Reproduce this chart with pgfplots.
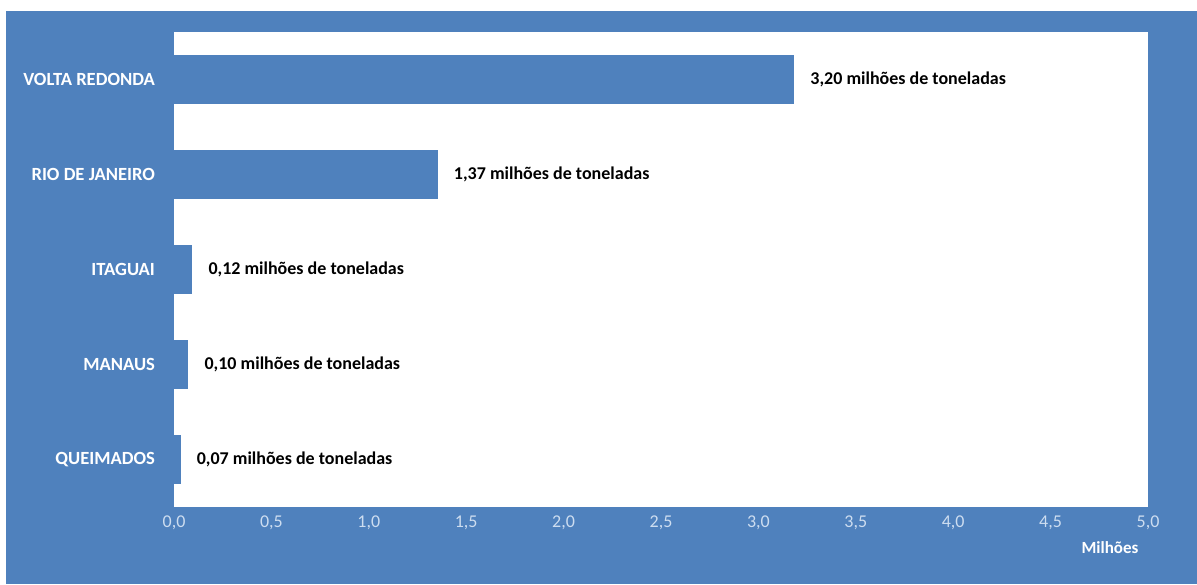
\documentclass[border=0pt]{standalone}
\usepackage{pgfplots}
\pgfplotsset{compat=1.18}
\usepackage{fontspec}
\setmainfont{Carlito}
\definecolor{bgblue}{RGB}{79,129,189}
\definecolor{barblue}{RGB}{79,129,189}
\definecolor{ticklbl}{RGB}{205,221,240}
\begin{document}
\begin{tikzpicture}
\fill[white] (0,0) rectangle (598.5pt,292pt);
\fill[bgblue] (3pt,0) rectangle (598.5pt,286.5pt);
\useasboundingbox (0,0) rectangle (598.5pt,292pt);
\begin{axis}[
  at={(87pt,38.5pt)}, anchor=south west,
  scale only axis, width=487pt, height=237.5pt,
  xbar, bar width=24pt,
  xmin=0, xmax=5, ymin=-0.5, ymax=4.5,
  y dir=reverse,
  ytick={0,1,2,3,4},
  yticklabels={VOLTA REDONDA,RIO DE JANEIRO,ITAGUAI,MANAUS,QUEIMADOS},
  xtick={0,0.5,...,5},
  /pgf/number format/.cd, use comma, fixed, fixed zerofill, precision=1, assume math mode=true,
  /pgfplots/.cd,
  axis background/.style={fill=white},
  axis line style={draw=none},
  major tick length=0pt,
  xticklabel style={font=\fontsize{9}{10}\selectfont, text=ticklbl, yshift=-1pt},
  yticklabel style={font=\bfseries\fontsize{9.3}{11}\selectfont, text=white, xshift=-6pt},
  xlabel={\textbf{Milhões}},
  xlabel style={font=\fontsize{8.5}{10}\selectfont, text=white, at={(axis description cs:0.961,-0.085)}, anchor=center},
  point meta=explicit symbolic,
  nodes near coords={\pgfplotspointmeta\ milhões de toneladas},
  nodes near coords style={font=\bfseries\fontsize{9}{11}\selectfont, text=black, anchor=west, xshift=5pt},
  clip=false,
]
\addplot[fill=barblue, draw=barblue, line width=0.3pt] coordinates {
  (3.18,0) [3,20]
  (1.35,1) [1,37]
  (0.09,2) [0,12]
  (0.07,3) [0,10]
  (0.03,4) [0,07]
};
\end{axis}
\end{tikzpicture}
\end{document}
